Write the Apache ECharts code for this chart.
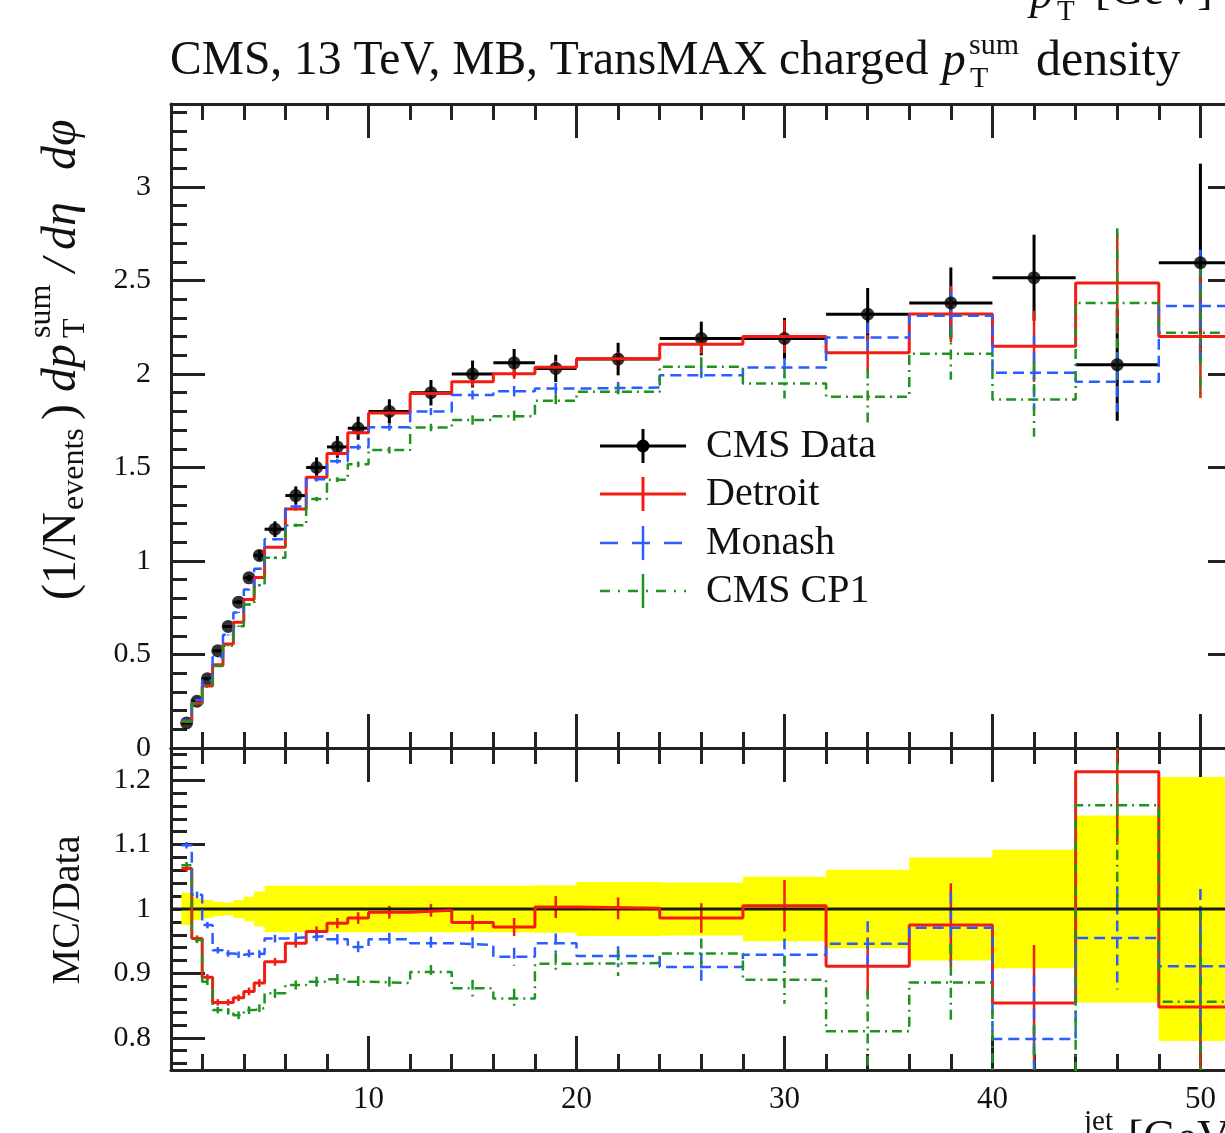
<!DOCTYPE html>
<html>
<head>
<meta charset="utf-8">
<title>TransMAX charged pT sum density</title>
<script src="https://cdn.jsdelivr.net/npm/echarts@6/dist/echarts.min.js"></script>
<style>
  html, body { margin: 0; padding: 0; background: #fff; }
  #chart { width: 1225px; height: 1133px; }
</style>
</head>
<body>
<div id="chart"></div>
<script>
// bins in pT^jet [GeV]
var binLo = [1, 1.5, 2, 2.5, 3, 3.5, 4, 4.5, 5, 6, 7, 8, 9, 10, 12, 14, 16, 18, 20, 24, 28, 32, 36, 40, 44, 48];
var binHi = [1.5, 2, 2.5, 3, 3.5, 4, 4.5, 5, 6, 7, 8, 9, 10, 12, 14, 16, 18, 20, 24, 28, 32, 36, 40, 44, 48, 52];

// CMS data
var dataVals = [0.134, 0.25, 0.37, 0.52, 0.65, 0.78, 0.91, 1.03, 1.17, 1.35, 1.50, 1.61, 1.71, 1.80, 1.90, 2.00, 2.06, 2.03, 2.08, 2.19, 2.19, 2.32, 2.38, 2.515, 2.05, 2.595];
var dataErr = [0.003, 0.004, 0.005, 0.006, 0.007, 0.011, 0.017, 0.028, 0.042, 0.049, 0.054, 0.058, 0.062, 0.065, 0.068, 0.072, 0.074, 0.073, 0.087, 0.09, 0.11, 0.14, 0.19, 0.23, 0.30, 0.53];
var bandRel = [0.025, 0.017, 0.014, 0.011, 0.010, 0.014, 0.019, 0.027, 0.036, 0.036, 0.036, 0.036, 0.036, 0.036, 0.036, 0.036, 0.036, 0.037, 0.042, 0.041, 0.050, 0.061, 0.080, 0.092, 0.145, 0.205];

// MC tunes, upper panel
var detroit = [0.142, 0.239, 0.331, 0.445, 0.556, 0.672, 0.794, 0.912, 1.074, 1.278, 1.448, 1.575, 1.686, 1.791, 1.896, 1.958, 2.002, 2.036, 2.082, 2.159, 2.201, 2.114, 2.321, 2.148, 2.487, 2.201];
var monash = [0.147, 0.256, 0.361, 0.487, 0.605, 0.725, 0.847, 0.958, 1.116, 1.291, 1.437, 1.534, 1.609, 1.715, 1.799, 1.888, 1.908, 1.922, 1.928, 1.993, 2.035, 2.195, 2.311, 2.007, 1.958, 2.364];
var cp1 = [0.143, 0.238, 0.328, 0.438, 0.547, 0.651, 0.767, 0.871, 1.017, 1.191, 1.331, 1.435, 1.517, 1.593, 1.714, 1.754, 1.774, 1.857, 1.905, 2.039, 1.949, 1.879, 2.109, 1.864, 2.380, 2.221];
var detroitErr = [0.001, 0.001, 0.002, 0.002, 0.003, 0.003, 0.005, 0.005, 0.006, 0.009, 0.012, 0.013, 0.015, 0.018, 0.019, 0.024, 0.028, 0.035, 0.036, 0.05, 0.088, 0.095, 0.15, 0.19, 0.27, 0.33];
var monashErr = [0.001, 0.001, 0.002, 0.002, 0.003, 0.004, 0.005, 0.006, 0.007, 0.009, 0.012, 0.013, 0.015, 0.018, 0.019, 0.024, 0.028, 0.03, 0.03, 0.045, 0.05, 0.08, 0.13, 0.2, 0.16, 0.3];
var cp1Err = [0.001, 0.001, 0.002, 0.002, 0.003, 0.004, 0.005, 0.006, 0.007, 0.009, 0.012, 0.013, 0.015, 0.018, 0.02, 0.025, 0.03, 0.035, 0.04, 0.05, 0.08, 0.15, 0.14, 0.2, 0.4, 0.35];

// MC/Data, lower panel
var detroitRatio = [1.063, 0.954, 0.894, 0.855, 0.855, 0.862, 0.872, 0.885, 0.918, 0.947, 0.965, 0.978, 0.986, 0.995, 0.998, 0.979, 0.972, 1.003, 1.001, 0.986, 1.005, 0.911, 0.975, 0.854, 1.213, 0.848];
var monashRatio = [1.099, 1.022, 0.975, 0.936, 0.931, 0.929, 0.931, 0.930, 0.954, 0.956, 0.958, 0.953, 0.941, 0.953, 0.947, 0.944, 0.926, 0.947, 0.927, 0.910, 0.929, 0.946, 0.971, 0.798, 0.955, 0.911];
var cp1Ratio = [1.068, 0.952, 0.887, 0.843, 0.841, 0.835, 0.843, 0.846, 0.869, 0.882, 0.887, 0.891, 0.887, 0.885, 0.902, 0.877, 0.861, 0.915, 0.916, 0.931, 0.890, 0.810, 0.886, 0.741, 1.161, 0.856];
var detroitRatioErr = [0.005, 0.005, 0.005, 0.005, 0.005, 0.005, 0.006, 0.006, 0.006, 0.007, 0.008, 0.008, 0.009, 0.010, 0.010, 0.012, 0.014, 0.017, 0.017, 0.023, 0.040, 0.045, 0.065, 0.090, 0.110, 0.150];
var monashRatioErr = [0.005, 0.005, 0.005, 0.005, 0.005, 0.005, 0.006, 0.006, 0.006, 0.007, 0.008, 0.008, 0.009, 0.010, 0.010, 0.012, 0.014, 0.015, 0.015, 0.022, 0.025, 0.035, 0.055, 0.100, 0.080, 0.120];
var cp1RatioErr = [0.005, 0.005, 0.005, 0.005, 0.005, 0.006, 0.006, 0.006, 0.007, 0.007, 0.008, 0.008, 0.009, 0.010, 0.011, 0.013, 0.015, 0.017, 0.020, 0.023, 0.037, 0.065, 0.060, 0.080, 0.170, 0.140];

// ticks
var xMajor = [10, 20, 30, 40, 50];
var xMinor = [2, 4, 6, 8, 12, 14, 16, 18, 22, 24, 26, 28, 32, 34, 36, 38, 42, 44, 46, 48];
var yTopMajor = [0, 0.5, 1, 1.5, 2, 2.5, 3];
var yRatioMajor = [0.8, 0.9, 1, 1.1, 1.2];
var yTopMinor = [];
for (var t = 1; t <= 34; t++) { if (t % 5) yTopMinor.push(t / 10); }
var yRatioMinor = [];
for (var t = 38; t <= 62; t++) { if (t % 5) yRatioMinor.push(t / 50); }

var RED = '#f41c10', BLUE = '#2c5cff', GREEN = '#1f9320', INK = '#222';
var SERIF = '"Liberation Serif", "DejaVu Serif", serif';
var BLUE_DASH = [11, 6], GREEN_DASH = [10, 5, 2, 5];

function stepPoints(vals) {
    var pts = [];
    for (var i = 0; i < vals.length; i++) {
        pts.push([binLo[i], vals[i]]);
        pts.push([binHi[i], vals[i]]);
    }
    return pts;
}

function stepSeries(vals, color, width, dash, xi, yi) {
    return {
        type: 'line', xAxisIndex: xi, yAxisIndex: yi,
        data: stepPoints(vals), showSymbol: false, clip: true, silent: true,
        lineStyle: { color: color, width: width, type: dash || 'solid' }
    };
}

function errSeries(vals, errs, color, width, dash, xi, yi, horiz) {
    return {
        type: 'custom', xAxisIndex: xi, yAxisIndex: yi, clip: true, silent: true,
        data: vals.map(function (v, i) { return [binLo[i], binHi[i], v, errs[i]]; }),
        encode: { x: [0, 1], y: 2 },
        renderItem: function (params, api) {
            var lo = api.value(0), hi = api.value(1), v = api.value(2), e = api.value(3);
            var mid = (lo + hi) / 2;
            var a = api.coord([mid, v + e]), b = api.coord([mid, v - e]);
            var st = { stroke: color, lineWidth: width, lineDash: dash || null };
            var kids = [{ type: 'line', shape: { x1: a[0], y1: a[1], x2: b[0], y2: b[1] }, style: st }];
            if (horiz) {
                var l = api.coord([lo, v]), r = api.coord([hi, v]);
                kids.push({ type: 'line', shape: { x1: l[0], y1: l[1], x2: r[0], y2: r[1] }, style: st });
            }
            return { type: 'group', children: kids };
        }
    };
}

var chartDom = document.getElementById('chart');
var myChart = echarts.init(chartDom, null, { renderer: 'canvas' });

function xAx(grid, pos, ticks, len, line, labels) {
    return {
        type: 'value', gridIndex: grid, position: pos, min: 0.5, max: 52,
        axisLine: { show: line, onZero: false, lineStyle: { color: INK, width: 3 } },
        axisTick: { show: true, inside: true, length: len, customValues: ticks, lineStyle: { color: INK, width: 3 } },
        axisLabel: labels ? { show: true, customValues: xMajor, margin: 14, color: '#111', fontFamily: SERIF, fontSize: 31 } : { show: false },
        splitLine: { show: false }
    };
}
function yAx(grid, pos, min, max, ticks, len, line, labels) {
    return {
        type: 'value', gridIndex: grid, position: pos, min: min, max: max,
        axisLine: { show: line, onZero: false, lineStyle: { color: INK, width: 3 } },
        axisTick: { show: true, inside: true, length: len, customValues: ticks, lineStyle: { color: INK, width: 3 } },
        axisLabel: labels ? { show: true, customValues: labels, margin: 20, color: '#111', fontFamily: SERIF, fontSize: 30 } : { show: false },
        splitLine: { show: false }
    };
}

var legendY = [446, 494, 543, 591];
var legendItems = [
    { name: 'CMS Data', color: '#000', dash: null, w: 3 },
    { name: 'Detroit', color: RED, dash: null, w: 3 },
    { name: 'Monash', color: BLUE, dash: [18, 14], w: 2.5 },
    { name: 'CMS CP1', color: GREEN, dash: [10, 8, 2, 8], w: 2.5 }
];
var graphics = [];
legendItems.forEach(function (it, i) {
    var y = legendY[i];
    graphics.push({ type: 'line', shape: { x1: 600, y1: y, x2: 686, y2: y }, style: { stroke: it.color, lineWidth: it.w, lineDash: it.dash } });
    graphics.push({ type: 'line', shape: { x1: 643, y1: y - 17, x2: 643, y2: y + 17 }, style: { stroke: it.color, lineWidth: it.w } });
    if (i === 0) graphics.push({ type: 'circle', shape: { cx: 643, cy: y, r: 6.5 }, style: { fill: '#000' } });
    graphics.push({ type: 'text', x: 706, y: y, style: { text: it.name, fontFamily: SERIF, fontSize: 40, fill: '#111', align: 'left', verticalAlign: 'middle' } });
});

function txt(text, x, y, size, italic) {
    return { type: 'text', x: x, y: y, style: { text: text, fontFamily: SERIF, fontStyle: italic ? 'italic' : 'normal', fontSize: size, fill: '#111', align: 'left', verticalAlign: 'middle' } };
}

// title
graphics.push(txt('CMS, 13 TeV, MB, TransMAX charged', 170, 62, 47.5));
graphics.push(txt('p', 942, 63, 47.5, true));
graphics.push(txt('sum', 969, 46, 30));
graphics.push(txt('T', 970, 79, 30));
graphics.push(txt('density', 1036, 62, 50));

// cut-off axis label of the plot above
graphics.push(txt('p', 1030, -4, 46, true));
graphics.push(txt('T', 1057, 12, 29));
graphics.push(txt('[GeV]', 1095, -8, 46));

// x axis title (cut at the bottom)
graphics.push(txt('p', 1058, 1146, 46, true));
graphics.push(txt('jet', 1084, 1122, 29));
graphics.push(txt('[GeV]', 1128, 1140, 46));

// y axis titles (rotated, reading upwards)
graphics.push({
    type: 'group', x: 62, y: 600, rotation: Math.PI / 2,
    children: [
        txt('(1/N', 0, 0, 48),
        txt('events', 90, 13, 32),
        txt(')', 180, 0, 48),
        txt('dp', 208, 0, 48, true),
        txt('T', 262, 14, 32),
        txt('sum', 262, -20, 32),
        txt('/', 328, 0, 48, true),
        txt('dη', 350, 0, 48, true),
        txt('dφ', 430, 0, 48, true)
    ]
});
graphics.push({ type: 'text', x: 68, y: 910, rotation: Math.PI / 2, style: { text: 'MC/Data', fontFamily: SERIF, fontSize: 40, fill: '#111', align: 'center', verticalAlign: 'middle' } });

var option = {
    animation: false,
    backgroundColor: '#fff',
    grid: [
        { left: 171, top: 104, width: 1071, height: 644, outerBoundsMode: 'none' },
        { left: 171, top: 748, width: 1071, height: 322, outerBoundsMode: 'none' }
    ],
    xAxis: [
        xAx(0, 'bottom', xMinor, 16, true, false),
        xAx(0, 'bottom', xMajor, 34, false, false),
        xAx(0, 'top', xMinor, 16, true, false),
        xAx(0, 'top', xMajor, 34, false, false),
        xAx(1, 'bottom', xMinor, 16, true, false),
        xAx(1, 'bottom', xMajor, 34, false, true),
        xAx(1, 'top', xMinor, 16, true, false),
        xAx(1, 'top', xMajor, 34, false, false)
    ],
    yAxis: [
        yAx(0, 'left', 0, 3.444, yTopMinor, 16, true, null),
        yAx(0, 'left', 0, 3.444, yTopMajor, 34, false, yTopMajor),
        yAx(0, 'right', 0, 3.444, yTopMinor, 16, true, null),
        yAx(0, 'right', 0, 3.444, yTopMajor, 34, false, null),
        yAx(1, 'left', 0.75, 1.25, yRatioMinor, 16, true, null),
        yAx(1, 'left', 0.75, 1.25, yRatioMajor, 34, false, yRatioMajor),
        yAx(1, 'right', 0.75, 1.25, yRatioMinor, 16, true, null),
        yAx(1, 'right', 0.75, 1.25, yRatioMajor, 34, false, null)
    ],
    graphic: { elements: graphics },
    series: [
        // upper panel: data, then tunes
        errSeries(dataVals, dataErr, '#000', 3, null, 0, 0, true),
        {
            type: 'scatter', xAxisIndex: 0, yAxisIndex: 0, silent: true,
            symbol: 'circle', symbolSize: 13, itemStyle: { color: '#000' },
            data: dataVals.map(function (v, i) { return [(binLo[i] + binHi[i]) / 2, v]; })
        },
        stepSeries(detroit, RED, 3, null, 0, 0),
        errSeries(detroit, detroitErr, RED, 2.5, null, 0, 0, false),
        stepSeries(monash, BLUE, 2.5, BLUE_DASH, 0, 0),
        errSeries(monash, monashErr, BLUE, 2.5, BLUE_DASH, 0, 0, false),
        stepSeries(cp1, GREEN, 2.5, GREEN_DASH, 0, 0),
        errSeries(cp1, cp1Err, GREEN, 2.5, GREEN_DASH, 0, 0, false),
        // lower panel: data band, unity line, ratios
        {
            type: 'custom', xAxisIndex: 4, yAxisIndex: 4, clip: true, silent: true,
            data: bandRel.map(function (e, i) { return [binLo[i], binHi[i], e]; }),
            encode: { x: [0, 1], y: 2 },
            renderItem: function (params, api) {
                var p1 = api.coord([api.value(0), 1 + api.value(2)]);
                var p2 = api.coord([api.value(1), 1 - api.value(2)]);
                return { type: 'rect', shape: { x: p1[0], y: p1[1], width: p2[0] - p1[0] + 0.5, height: p2[1] - p1[1] }, style: { fill: '#ffff00' } };
            }
        },
        {
            type: 'line', xAxisIndex: 4, yAxisIndex: 4, showSymbol: false, silent: true,
            data: [[0.5, 1], [52, 1]], lineStyle: { color: '#1a1a1a', width: 3 }
        },
        stepSeries(detroitRatio, RED, 3, null, 4, 4),
        errSeries(detroitRatio, detroitRatioErr, RED, 2.5, null, 4, 4, false),
        stepSeries(monashRatio, BLUE, 2.5, BLUE_DASH, 4, 4),
        errSeries(monashRatio, monashRatioErr, BLUE, 2.5, BLUE_DASH, 4, 4, false),
        stepSeries(cp1Ratio, GREEN, 2.5, GREEN_DASH, 4, 4),
        errSeries(cp1Ratio, cp1RatioErr, GREEN, 2.5, GREEN_DASH, 4, 4, false)
    ]
};

option && myChart.setOption(option);
</script>
</body>
</html>
